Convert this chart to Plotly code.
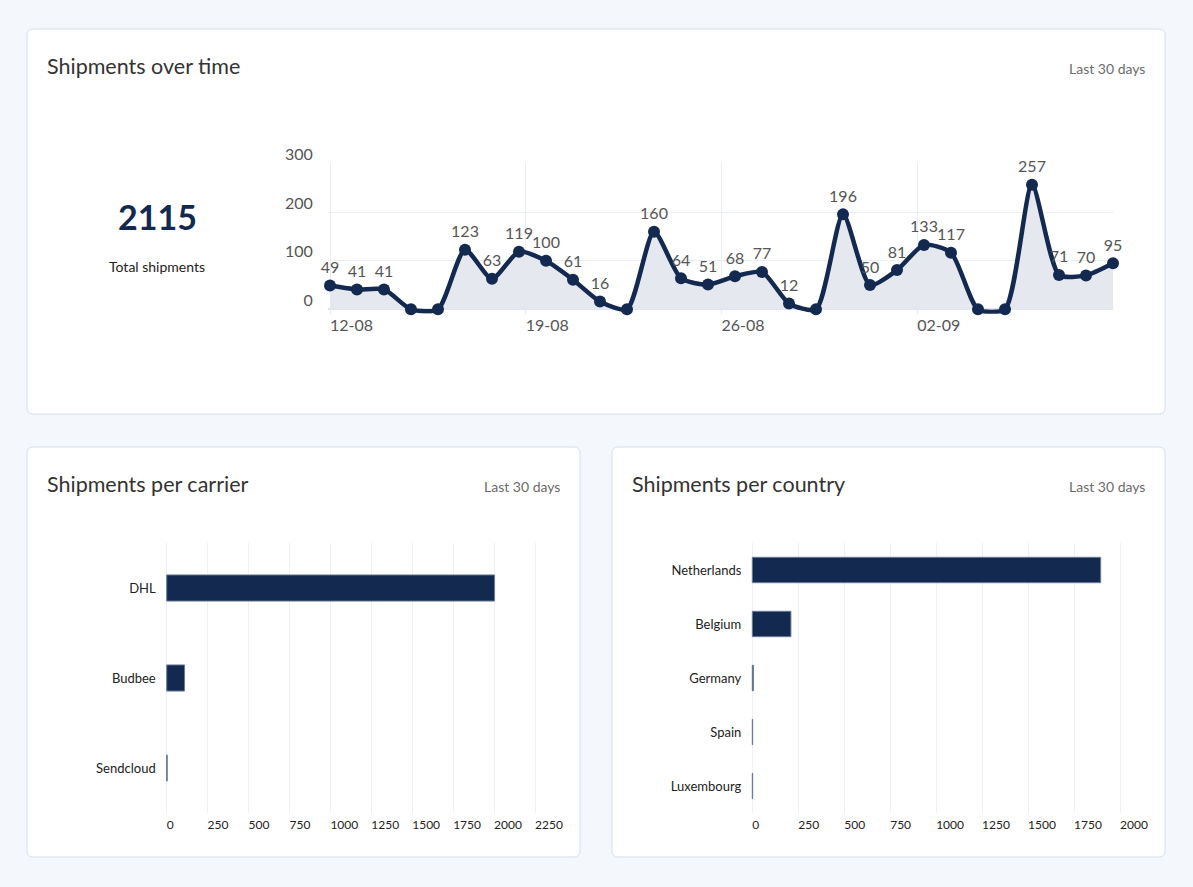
import plotly.graph_objects as go
import pandas as pd

W, H = 1193, 887

# ---------------- data ----------------
dates = pd.date_range("2024-08-12", periods=30, freq="D")
shipments = [49, 41, 41, 0, 0, 123, 63, 119, 100, 61, 16, 0, 160, 64, 51,
             68, 77, 12, 0, 196, 50, 81, 133, 117, 0, 0, 257, 71, 70, 95]
week_labels = ["12-08", "19-08", "26-08", "02-09"]
total_shipments = 2115

carriers = ["DHL", "Budbee", "Sendcloud"]
carrier_counts = [2003, 109, 3]

countries = ["Netherlands", "Belgium", "Germany", "Spain", "Luxembourg"]
country_counts = [1895, 210, 6, 2, 2]

period_label = "Last 30 days"

# ---------------- style ----------------
FONT = "Lato"
NAVY = "#13294f"
BG = "#f4f8fd"
CARD_BORDER = "#d5dfe9"
GRID = "#e9eef4"
BAR_GRID = "#edf1f6"
TITLE_C = "#333333"
SUB_C = "#6b6b6b"

# week gridlines in the original sit slightly off the daily points
WEEK_STEP_DAYS = 7.25
week_tickvals = [dates[0] + pd.Timedelta(days=WEEK_STEP_DAYS * k) for k in range(len(week_labels))]


def px(x):
    return x / W


def py(y):
    return 1 - y / H


def card_path(x0, y0, x1, y1, r=6):
    rx, ry = r / W, r / H
    X0, X1 = px(x0), px(x1)
    Y0, Y1 = py(y0), py(y1)
    return (f"M {X0+rx},{Y0} L {X1-rx},{Y0} Q {X1},{Y0} {X1},{Y0-ry} "
            f"L {X1},{Y1+ry} Q {X1},{Y1} {X1-rx},{Y1} "
            f"L {X0+rx},{Y1} Q {X0},{Y1} {X0},{Y1+ry} "
            f"L {X0},{Y0-ry} Q {X0},{Y0} {X0+rx},{Y0} Z")


def padded(p_lo, p_hi, v_lo, v_hi, pad_px=2.0):
    """Extend a value range by pad_px pixels on both ends, returning (range, domain px)."""
    upp = (v_hi - v_lo) / (p_hi - p_lo)
    return [v_lo - pad_px * upp, v_hi + pad_px * upp], [p_lo - pad_px, p_hi + pad_px]


fig = go.Figure()

# line chart
fig.add_trace(go.Scatter(
    x=dates, y=shipments,
    mode="lines+markers+text",
    text=[str(v) if v else "" for v in shipments],
    textposition="top center",
    textfont=dict(family=FONT, size=16, color="#555555"),
    line=dict(color=NAVY, width=4.5, shape="spline", smoothing=0.65),
    marker=dict(size=12, color=NAVY),
    fill="tozeroy", fillcolor="#e6e8ef",
    cliponaxis=False, hoverinfo="x+y",
    xaxis="x", yaxis="y", showlegend=False,
))

# carrier bars
fig.add_trace(go.Bar(
    x=carrier_counts, y=carriers, orientation="h",
    marker=dict(color=NAVY, line=dict(color="#6a7a98", width=1)),
    width=0.29, xaxis="x2", yaxis="y2", showlegend=False,
))

# country bars
fig.add_trace(go.Bar(
    x=country_counts, y=countries, orientation="h",
    marker=dict(color=NAVY, line=dict(color="#6a7a98", width=1)),
    width=0.47, xaxis="x3", yaxis="y3", showlegend=False,
))

cards = [(27, 29, 1165, 414), (27, 447, 580, 857), (612, 447, 1165, 857)]
shapes = [dict(type="path", path=card_path(*c), xref="paper", yref="paper",
               fillcolor="white", line=dict(color=CARD_BORDER, width=1),
               layer="below") for c in cards]

annotations = []


def txt(x, y, s, size, color, anchor="left", bold=False):
    annotations.append(dict(
        x=px(x), y=py(y), xref="paper", yref="paper", text=f"<b>{s}</b>" if bold else s,
        showarrow=False, xanchor=anchor, yanchor="middle", borderpad=0,
        font=dict(family=FONT, size=size, color=color)))


txt(46, 66, "Shipments over time", 21.5, TITLE_C)
txt(1146, 68, period_label, 14, SUB_C, "right")
txt(46, 484, "Shipments per carrier", 21.5, TITLE_C)
txt(561, 486, period_label, 14, SUB_C, "right")
txt(631, 484, "Shipments per country", 21.5, TITLE_C)
txt(1146, 486, period_label, 14, SUB_C, "right")
txt(157, 216, str(total_shipments), 34, NAVY, "center", bold=True)
txt(157, 266, "Total shipments", 14, "#222222", "center")

# ---- line chart geometry: 0 -> 309.3px, 300 -> 164px ; x 330 -> 1113px
unit = (309.3 - 164) / 300          # px per shipment
Y_LO, Y_HI = -9, 301.5
y_dom_px = [309.3 - Y_LO * unit, 309.3 - Y_HI * unit]   # bottom, top (px)

day_px = (1113 - 330) / 29
X_PAD_H = 2                          # hours of padding on the left
x_range = [dates[0] - pd.Timedelta(hours=X_PAD_H), dates[-1]]
x_dom_px = [330 - day_px * X_PAD_H / 24, 1113]

# ---- bar charts geometry
r2, d2 = padded(166.7, 535, 0, 2250)
r3, d3 = padded(752.3, 1120, 0, 2000)

fig.update_layout(
    width=W, height=H,
    margin=dict(l=0, r=0, t=0, b=0, pad=0),
    paper_bgcolor=BG, plot_bgcolor="rgba(0,0,0,0)",
    font=dict(family=FONT),
    shapes=shapes, annotations=annotations,
    xaxis=dict(
        domain=[px(x_dom_px[0]), px(x_dom_px[1])], anchor="y", type="date", automargin=False,
        range=x_range,
        tickmode="array", tickvals=week_tickvals, ticktext=week_labels,
        showgrid=True, gridcolor=GRID, zeroline=False, showline=False,
        ticks="", ticklabelposition="outside right", ticklabelstandoff=0,
        tickfont=dict(family=FONT, size=16, color="#555555"),
    ),
    yaxis=dict(
        domain=[py(y_dom_px[0]), py(y_dom_px[1])], anchor="x", automargin=False,
        range=[Y_LO, Y_HI], tick0=0, dtick=100, showgrid=True, gridcolor=GRID,
        zeroline=True, zerolinecolor="#dfe5ec", zerolinewidth=1.5, showline=False,
        ticks="", ticklabelposition="outside top", ticklabelstandoff=14,
        ticklabelshift=2,
        tickfont=dict(family=FONT, size=16, color="#555555"),
    ),
    xaxis2=dict(
        domain=[px(d2[0]), px(d2[1])], anchor="y2", automargin=False,
        range=r2, tick0=0, dtick=250, showgrid=True, gridcolor=BAR_GRID,
        zeroline=False, showline=False, ticks="",
        ticklabelposition="outside right", ticklabelstandoff=3,
        tickfont=dict(family=FONT, size=12, color="#222222"),
    ),
    yaxis2=dict(
        domain=[py(813), py(543)], anchor="x2", automargin=False,
        categoryorder="array", categoryarray=carriers,
        range=[2.5, -0.5], showgrid=False, zeroline=False, ticks="",
        ticklabelstandoff=8,
        tickfont=dict(family=FONT, size=13, color="#222222"),
    ),
    xaxis3=dict(
        domain=[px(d3[0]), px(d3[1])], anchor="y3", automargin=False,
        range=r3, tick0=0, dtick=250, showgrid=True, gridcolor=BAR_GRID,
        zeroline=False, showline=False, ticks="",
        ticklabelposition="outside right", ticklabelstandoff=3,
        tickfont=dict(family=FONT, size=12, color="#222222"),
    ),
    yaxis3=dict(
        domain=[py(813), py(543)], anchor="x3", automargin=False,
        categoryorder="array", categoryarray=countries,
        range=[4.5, -0.5], showgrid=False, zeroline=False, ticks="",
        ticklabelstandoff=8,
        tickfont=dict(family=FONT, size=13, color="#222222"),
    ),
)

fig.write_html("out.html", config={"displayModeBar": False},
               post_script="document.body.style.margin='0';document.body.style.overflow='hidden';")
